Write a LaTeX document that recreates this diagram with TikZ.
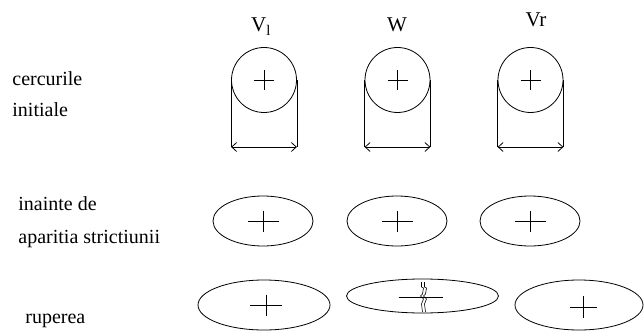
\documentclass[tikz,border=0pt]{standalone}
\usepackage{fontspec}
\setmainfont{Liberation Serif}
\usepackage{tikz}
\usetikzlibrary{arrows.meta,positioning,shapes.geometric}

\tikzset{
  pics/plus/.style 2 args={code={
    \draw (-#1,0) -- (#1,0) (0,-#2) -- (0,#2);}},
  pics/crack/.style={code={
    \foreach \dx in {0,3} {
      \draw[line width=0.6pt, xshift=\dx pt]
        (-1,-14) -- (-1,-9) -- (1,-8) -- (0,-2) -- (-2,0)
        -- (1,3) -- (-1,8) -- (0,16);
    }}}
}

\begin{document}
\begin{tikzpicture}[
    x=1pt, y=-1pt,
    line width=0.8pt,
    lbl/.style={font=\fontsize{20}{20}\selectfont, anchor=base west,
    inner sep=0pt},
    head/.style={font=\fontsize{21}{21}\selectfont, anchor=base,
    inner sep=0pt},
    ring/.style={draw, circle, minimum size=65pt, inner sep=0pt},
    oval/.style={draw, ellipse, inner sep=0pt},
    dimarr/.style={{Straight Barb[length=5pt,width=9pt]}-{Straight Barb[length=5pt,width=9pt]}}
]
\useasboundingbox (0,0) rectangle (644,331);

% row labels
\node[lbl] (cerc) at (12,86) {cercurile};
\node[lbl] (init) at (12,117) {initiale};
\node[lbl] (inainte) at (18,210) {inainte de};
\node[lbl] (apar) at (18,243) {aparitia strictiunii};
\node[lbl] (rup) at (25,323) {ruperea};

% column heads
\node[head] (hvl) at (261,32) {V\textsubscript{l}};
\node[head] (hw) at (397,32) {W};
\node[head] (hvr) at (536,27) {Vr};

% initial circles with their diameters
\node[ring] (ring1) at (264,80) {};
\node[ring] (ring2) at (397.5,80) {};
\node[ring] (ring3) at (530.5,80) {};
\foreach \n in {1,2,3} {
  \coordinate (bl\n) at ([yshift=-67pt]ring\n.west);
  \coordinate (br\n) at ([yshift=-67pt]ring\n.east);
  \draw (ring\n.west) -- (bl\n);
  \draw (ring\n.east) -- (br\n);
  \draw[dimarr] (bl\n) -- (br\n);
  \pic at (ring\n.center) {plus={10}{10}};
}

% before necking
\node[oval, minimum width=100pt, minimum height=50pt] (neck1) at (263,221) {};
\node[oval, minimum width=100pt, minimum height=50pt] (neck2) at (397,221) {};
\node[oval, minimum width=100pt, minimum height=50pt] (neck3) at (530,221) {};
\foreach \n in {1,2,3}
  \pic at (neck\n.center) {plus={15.5}{10.5}};

% fracture
\node[oval, minimum width=132pt, minimum height=50pt] (brk1) at (264,305) {};
\node[oval, minimum width=152pt, minimum height=34pt] (brk2) at (422.5,296) {};
\node[oval, minimum width=128pt, minimum height=50pt] (brk3) at (579,305) {};
\pic at ([xshift=2pt]brk1.center) {plus={16}{10.5}};
\draw ([xshift=-24pt,yshift=-1pt]brk2.center) -- ([xshift=20pt,yshift=-1pt]brk2.center);
\pic at (brk2.center) {crack};
\pic at ([xshift=4pt,yshift=-2pt]brk3.center) {plus={13.5}{11}};
\end{tikzpicture}
\end{document}
